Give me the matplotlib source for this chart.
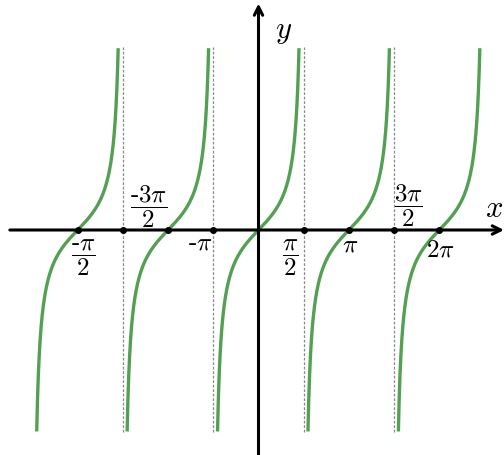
import numpy as np
import matplotlib.pyplot as plt

plt.rcParams['mathtext.fontset'] = 'cm'

# tan(x) branches centred on k*pi, asymptotes at odd multiples of pi/2
branch_centres = [-2, -1, 0, 1, 2]          # in units of pi
asymptotes = [-3, -1, 1, 3]                 # in units of pi/2
tick_marks = [-4, -3, -2, -1, 1, 2, 3, 4]   # in units of pi/2
y_top, y_bottom = 6.1, -6.73                # where the branches are cut off

# axis labels: text, x (units of pi/2), above/below the axis
label_text = [r'$\dfrac{\text{-}\pi}{2}$', r'$\dfrac{\text{-}\mathit{3}\pi}{2}$',
              r'$\text{-}\pi$', r'$\dfrac{\pi}{2}$', r'$\pi$',
              r'$\dfrac{\mathit{3}\pi}{2}$', r'$\mathit{2}\pi$']
label_x = [-3.88, -2.44, -1.29, 0.70, 2.02, 3.31, 4.02]
label_y = [-0.9, 0.8, -0.37, -0.9, -0.45, 0.84, -0.62]

green = '#53a053'
half_pi = np.pi / 2

fig = plt.figure(figsize=(5.04, 4.56), dpi=100)
ax = fig.add_axes([0, 0, 1, 1])
ax.set_xlim(-8.982, 8.530)
ax.set_ylim(-7.5, 7.7)
ax.axis('off')

for c in branch_centres:
    xs = np.linspace(c * np.pi - half_pi + 1e-4, c * np.pi + half_pi - 1e-4, 2000)
    ys = np.tan(xs)
    keep = (ys >= y_bottom) & (ys <= y_top)
    ax.plot(xs[keep], ys[keep], color=green, lw=2.4, solid_capstyle='butt', zorder=3)

for a in asymptotes:
    ax.plot([a * half_pi] * 2, [y_bottom, y_top], color='#8a8a8a', lw=0.9,
            ls=(0, (2.2, 1.4)), zorder=2)

# axes with arrow heads
ax.annotate('', xy=(8.53, 0), xytext=(-8.64, 0),
            arrowprops=dict(arrowstyle='->,head_length=0.6,head_width=0.3',
                            lw=2.2, color='black', shrinkA=0, shrinkB=0), zorder=4)
ax.annotate('', xy=(0, 7.55), xytext=(0, -7.6),
            arrowprops=dict(arrowstyle='->,head_length=0.6,head_width=0.3',
                            lw=2.2, color='black', shrinkA=0, shrinkB=0), zorder=4)

ax.plot(np.array(tick_marks) * half_pi, np.zeros(len(tick_marks)), 'o',
        color='black', ms=4, zorder=5)

for t, lx, ly in zip(label_text, label_x, label_y):
    ax.text(lx * half_pi, ly, t, fontsize=18, ha='center', va='center', zorder=6)

ax.text(8.2, 0.76, r'$x$', fontsize=22, ha='center', va='center')
ax.text(0.87, 6.65, r'$y$', fontsize=22, ha='center', va='center')

fig.savefig('out.png', dpi=100)
